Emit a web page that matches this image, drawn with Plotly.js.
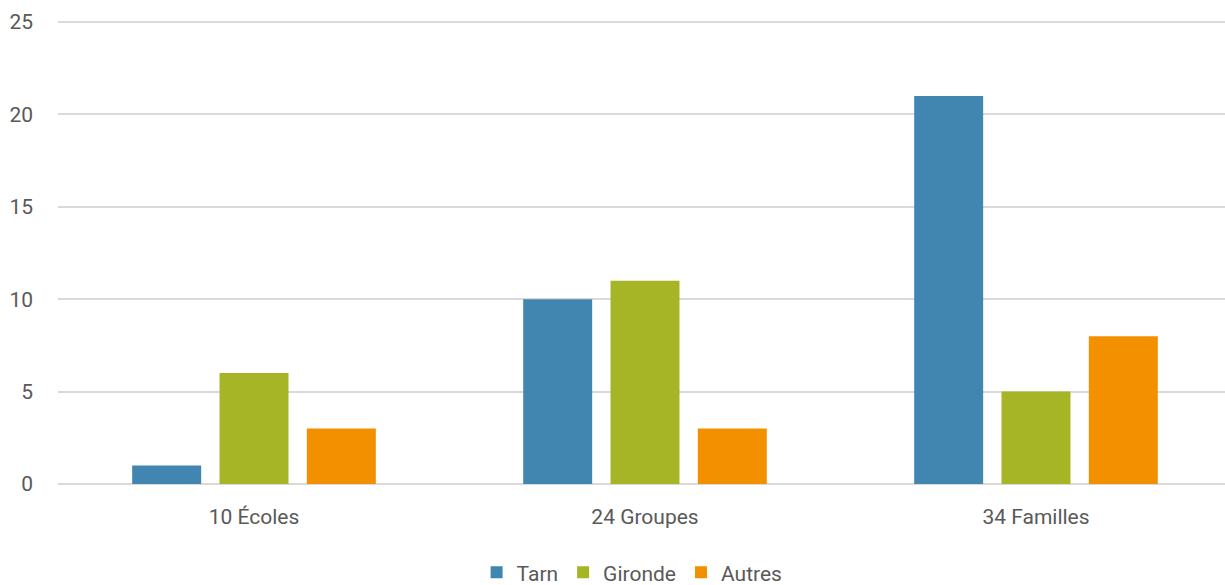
<!DOCTYPE html>
<html>
<head>
<meta charset="utf-8">
<script src="https://cdn.plot.ly/plotly-3.0.1.min.js"></script>
<style>html,body{margin:0;padding:0;background:#fff;overflow:hidden;}#chart{width:1225px;height:585px;}</style>
</head>
<body>
<div id="chart"></div>
<script>
const categories = ["10 Écoles", "24 Groupes", "34 Familles"];
const seriesNames = ["Tarn", "Gironde", "Autres"];
const tarn = [1, 10, 21];
const gironde = [6, 11, 5];
const autres = [3, 3, 8];
const yTicks = [0, 5, 10, 15, 20, 25];

const colors = ["#4186B1", "#A6B526", "#F39000"];
const values = [tarn, gironde, autres];
const traces = seriesNames.map((n, i) => ({
  type: "bar", name: n, x: categories, y: values[i],
  marker: {color: colors[i]}, hoverinfo: "none"
}));

const fam = "Roboto, 'Liberation Sans', sans-serif";
const grey = "#595959";
const layout = {
  width: 1225, height: 585,
  margin: {l: 58, r: 0, t: 20, b: 101, pad: 0},
  paper_bgcolor: "#fff", plot_bgcolor: "#fff",
  barmode: "group", bargap: 0.33, bargroupgap: 0.21,
  font: {family: fam, color: grey, size: 21},
  showlegend: true,
  legend: {orientation: "h", x: 0.516, xanchor: "center", xref: "container", yref: "container", y: 0.021, yanchor: "middle",
           font: {family: fam, color: grey, size: 21}, traceorder: "normal"},
  xaxis: {type: "category", range: [-0.5013, 2.4834], showgrid: false, zeroline: false, showline: false, automargin: false,
          ticks: "", ticklabelstandoff: 18, tickfont: {family: fam, color: grey, size: 21}},
  yaxis: {range: [0, 25.108], tickvals: yTicks, ticktext: yTicks.map(String), automargin: false,
          showgrid: true, gridcolor: "#D9D9D9", gridwidth: 2,
          zeroline: true, zerolinecolor: "#D9D9D9", zerolinewidth: 2,
          showline: false, ticks: "", ticklabelstandoff: 24,
          tickfont: {family: fam, color: grey, size: 21}}
};
Plotly.newPlot("chart", traces, layout, {staticPlot: true, displayModeBar: false});
</script>
</body>
</html>
